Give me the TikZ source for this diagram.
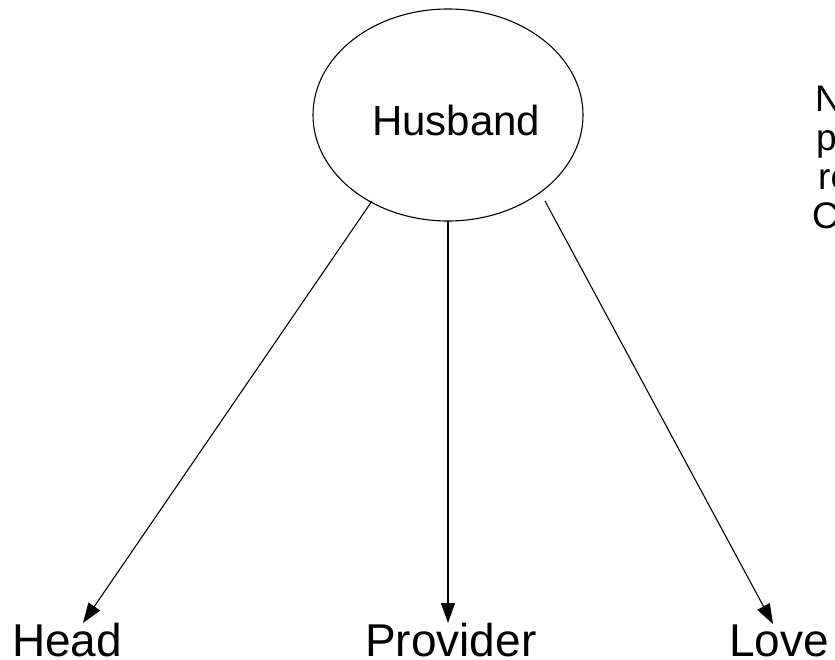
\documentclass[tikz,border=0pt]{standalone}
\usepackage{fontspec}
\setmainfont{Liberation Sans}
\usetikzlibrary{shapes.geometric,arrows.meta}
\begin{document}
\begin{tikzpicture}[x=1pt,y=-1pt,
  conn/.style={draw=black,line width=1.1pt,-{Triangle[length=20pt,width=14pt]}},
  lbl/.style={inner sep=0pt,text depth=0pt,font=\fontsize{46}{50}\selectfont},
  note/.style={inner sep=0pt,font=\fontsize{37}{40}\selectfont}]
\useasboundingbox (0,0) rectangle (835,660);
\clip (0,0) rectangle (835,660);
\node[ellipse,draw=black,line width=1.1pt,minimum width=270pt,minimum height=212pt,inner sep=0pt] (hus) at (448,115) {};
\node[inner sep=0pt,anchor=base west,font=\fontsize{42}{46}\selectfont] (hustext) at (372,136) {Husband};
\node[lbl,anchor=base west] (head) at (12,656) {Head};
\node[lbl,anchor=base west] (prov) at (365,656) {Provider};
\node[lbl,anchor=base west] (love) at (729,656) {Love};
\coordinate (s1) at (372,201);
\coordinate (s2) at (448,221);
\coordinate (s3) at (545,201);
\coordinate (t1) at (83,623);
\coordinate (t2) at (448,623);
\coordinate (t3) at (773,624);
\draw[conn] (s1) -- (t1);
\draw[conn] (s2) -- (t2);
\draw[conn] (s3) -- (t3);
\node[note,anchor=base west] (n1) at (815,112) {N};
\node[note,anchor=base west] (n2) at (816,151) {p};
\node[note,anchor=base west] (n3) at (818,190) {re};
\node[note,anchor=base west] (n4) at (812,229) {C};
\end{tikzpicture}
\end{document}
